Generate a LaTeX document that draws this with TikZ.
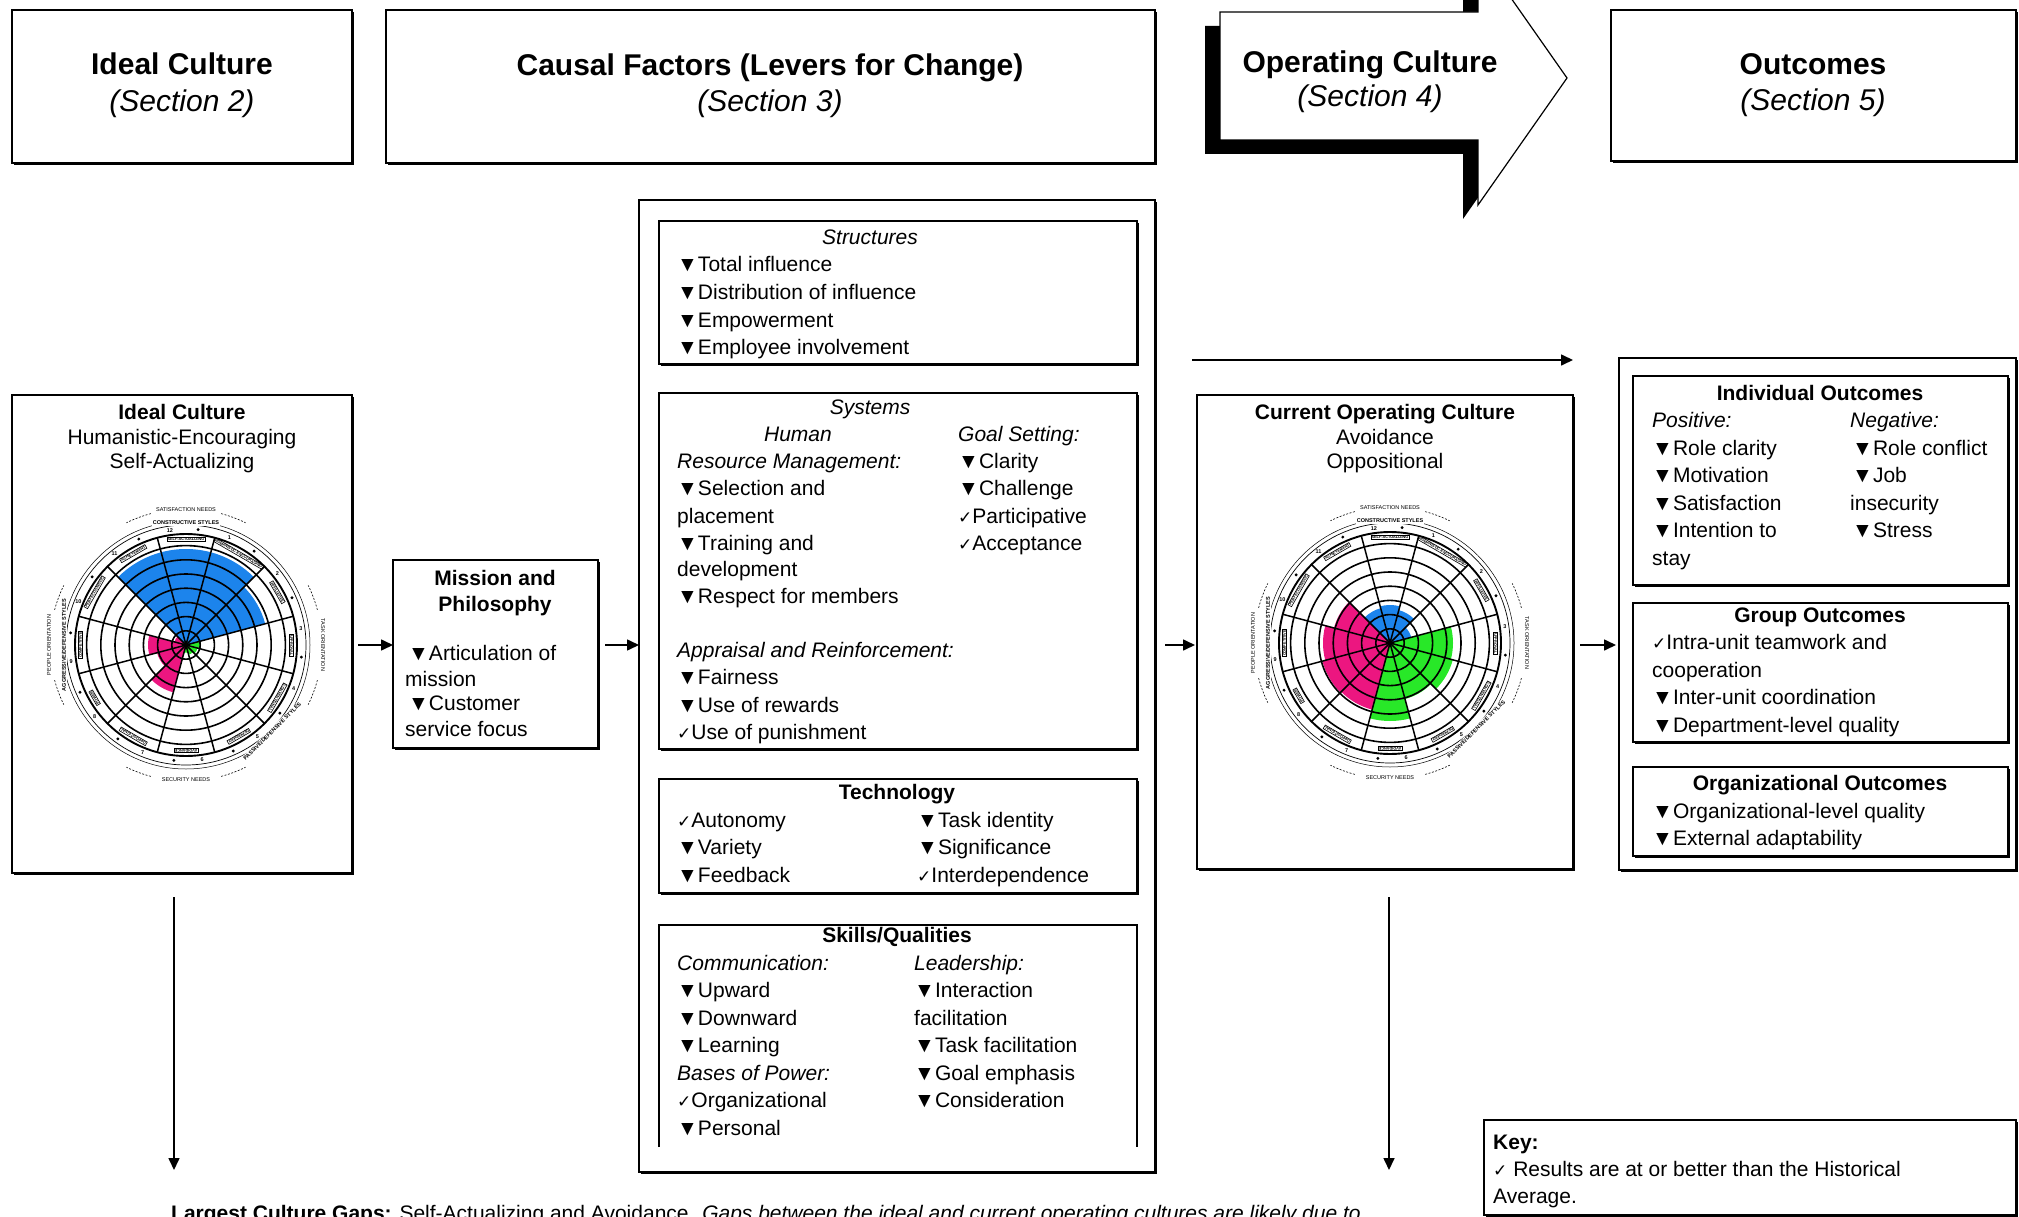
\documentclass[tikz,border=0pt]{standalone}
\usepackage{fontspec}
\setmainfont{Liberation Sans}
\newfontfamily\dejavu{DejaVu Sans}
\usetikzlibrary{arrows.meta,shadows}
\definecolor{cblue}{RGB}{28,132,236}
\definecolor{cpink}{RGB}{236,22,128}
\definecolor{cgreen}{RGB}{40,232,40}
\newcommand\bodyfont{\fontsize{21}{27.5}\selectfont}
\newcommand\ck{{\dejavu\fontsize{17}{17}\selectfont ✓}}
\newcommand\tri{▼}

% circumplex: #1 centre coordinate, #2 twelve radii (styles 1..12), #3 name prefix
\newcommand\circumplex[3]{%
 \begin{scope}[shift={(#1)},x=1pt,y=1pt]
  \foreach \r [count=\h] in {#2}{%
    \pgfmathsetmacro\a{90-30*\h}%
    \ifnum\h<3 \def\col{cblue}\else\ifnum\h<7 \def\col{cgreen}\else\ifnum\h<11 \def\col{cpink}\else\def\col{cblue}\fi\fi\fi
    \fill[\col] (0,0) -- (\a-15:\r) arc[start angle=\a-15,end angle=\a+15,radius=\r] -- cycle;
  }
  \foreach \k in {1,...,7} \draw[line width=1.6pt] (0,0) circle[radius=14.2*\k];
  \draw[line width=1.9pt] (0,0) circle[radius=111];
  \foreach \s in {15,45,...,345} \draw[line width=1.5pt] (0,0) -- (\s:111);
  \foreach \nm [count=\h] in {HUMANISTIC-ENCOURAGING,AFFILIATIVE,APPROVAL,CONVENTIONAL,DEPENDENT,AVOIDANCE,OPPOSITIONAL,POWER,COMPETITIVE,PERFECTIONISTIC,ACHIEVEMENT,SELF-ACTUALIZING}{%
    \pgfmathsetmacro\a{90-30*\h}%
    \node[draw,line width=0.6pt,inner sep=0.7pt,font=\fontsize{3.8}{4}\selectfont\bfseries,rotate=\a-90] (#3s\h) at (\a:105.5) {\nm};
    \node[inner sep=0pt,font=\fontsize{5.5}{5.5}\selectfont\bfseries] (#3n\h) at (\a+8:116) {\h};
    \fill (\a-6:116) circle[radius=1.6];
  }
  \draw[line width=0.7pt] (0,0) circle[radius=120];
  \draw[line width=0.5pt] (0,0) circle[radius=124];
  \node[fill=white,inner sep=1pt,font=\fontsize{5.5}{6}\selectfont\bfseries] (#3g1) at (90:122) {CONSTRUCTIVE STYLES};
  \node[fill=white,inner sep=1pt,font=\fontsize{5.5}{6}\selectfont\bfseries,rotate=45] (#3g2) at (-45:122) {PASSIVE/DEFENSIVE STYLES};
  \node[fill=white,inner sep=1pt,font=\fontsize{5.5}{6}\selectfont\bfseries,rotate=90] (#3g3) at (180:122) {AGGRESSIVE/DEFENSIVE STYLES};
  \node[inner sep=0pt,font=\fontsize{5.5}{6}\selectfont] (#3o1) at (90:135) {SATISFACTION NEEDS};
  \node[inner sep=0pt,font=\fontsize{5.5}{6}\selectfont] (#3o2) at (-90:135) {SECURITY NEEDS};
  \node[inner sep=0pt,font=\fontsize{5.5}{6}\selectfont,rotate=90] (#3o3) at (180:137) {PEOPLE ORIENTATION};
  \node[inner sep=0pt,font=\fontsize{5.5}{6}\selectfont,rotate=-90] (#3o4) at (0:137) {TASK ORIENTATION};
  \foreach \c in {90,-90,180,0}{%
    \draw[line width=0.6pt,dash pattern=on 2pt off 1.5pt] (\c+15:136) arc[start angle=\c+15,end angle=\c+26,radius=136];
    \draw[line width=0.6pt,dash pattern=on 2pt off 1.5pt] (\c-15:136) arc[start angle=\c-15,end angle=\c-26,radius=136];
  }
 \end{scope}}

\begin{document}
\begin{tikzpicture}[x=1pt,y=-1pt,
  box/.style={draw,line width=1.5pt,fill=white,inner sep=0pt,outer sep=0pt,anchor=north west,
    general shadow={fill=black,shadow xshift=1.8pt,shadow yshift=-1.8pt}},
  txt/.style={inner sep=0pt,anchor=base west,font=\bodyfont},
  ctr/.style={txt,anchor=base},
  tbf/.style={font=\bodyfont\bfseries},
  tit/.style={font=\bodyfont\itshape},
  hdb/.style={inner sep=0pt,anchor=base,font=\fontsize{30}{36}\selectfont\bfseries},
  hdi/.style={inner sep=0pt,anchor=base,font=\fontsize{30}{36}\selectfont\itshape},
  arr/.style={line width=1.6pt,-{Triangle[length=12pt,width=11pt]}}]
\useasboundingbox (0,0) rectangle (2019,1217);
\fill[white] (0,0) rectangle (2019,1217);

% ---------- section headers ----------
\node[box,minimum width=340pt,minimum height=153pt] (hideal) at (12,10) {};
\node[box,minimum width=769pt,minimum height=153pt] (hcausal) at (386,10) {};
\node[box,minimum width=405pt,minimum height=151pt] (houtc) at (1611,10) {};
\node[hdb] (hideal1) at (182,75) {Ideal Culture};
\node[hdi] (hideal2) at (182,112) {(Section 2)};
\node[hdb] (hcausal1) at (770,76) {Causal Factors (Levers for Change)};
\node[hdi] (hcausal2) at (770,112) {(Section 3)};
\fill[black,shift={(-15,14)}] (1220,12) -- (1478,12) -- (1478,-49) -- (1567,78) -- (1478,205) -- (1478,140) -- (1220,140) -- cycle;
\draw[line width=1.2pt,fill=white] (1220,12) -- (1478,12) -- (1478,-49) -- (1567,78) -- (1478,205) -- (1478,140) -- (1220,140) -- cycle;
\node[hdb] (hop1) at (1370,73) {Operating Culture};
\node[hdi] (hop2) at (1370,107) {(Section 4)};
\node[hdb] (hout1) at (1813,75) {Outcomes};
\node[hdi] (hout2) at (1813,111) {(Section 5)};

% ---------- ideal culture ----------
\node[box,minimum width=340pt,minimum height=478pt] (ideal) at (12,395) {};
\node[ctr,tbf] (id1) at (182,419) {Ideal Culture};
\node[ctr] (id2) at (182,444) {Humanistic-Encouraging};
\node[ctr] (id3) at (182,468) {Self-Actualizing};
\coordinate (idc) at (186,645);
\circumplex{idc}{96,82,15,12,10,8,49,30,38,12,96,96}{ic}

% ---------- mission ----------
\node[box,minimum width=205pt,minimum height=188pt] (mission) at (393,560) {};
\node[ctr,tbf] (mi1) at (495,585) {Mission and};
\node[ctr,tbf] (mi2) at (495,611) {Philosophy};
\node[txt] (mi3) at (408,660) {\tri Articulation of};
\node[txt] (mi4) at (405,686) {mission};
\node[txt] (mi5) at (408,710) {\tri Customer};
\node[txt] (mi6) at (405,736) {service focus};

% ---------- causal factors ----------
\node[box,minimum width=516pt,minimum height=972pt] (causal) at (639,200) {};

\node[box,minimum width=478pt,minimum height=143pt] (struct) at (659,221) {};
\node[ctr,tit] (st0) at (870,244) {Structures};
\node[txt] (st1) at (677,272) {\tri Total influence};
\node[txt] (st2) at (677,299.5) {\tri Distribution of influence};
\node[txt] (st3) at (677,327) {\tri Empowerment};
\node[txt] (st4) at (677,354.5) {\tri Employee involvement};

\node[box,minimum width=478pt,minimum height=356pt] (systems) at (659,393) {};
\node[ctr,tit] (sy0) at (870,414) {Systems};
\node[ctr,tit] (sy1) at (798,441) {Human};
\node[txt,tit] (sy2) at (677,468) {Resource Management:};
\node[txt] (sy3) at (677,495.5) {\tri Selection and};
\node[txt] (sy4) at (677,523) {placement};
\node[txt] (sy5) at (677,550.5) {\tri Training and};
\node[txt] (sy6) at (677,576) {development};
\node[txt] (sy7) at (677,603) {\tri Respect for members};
\node[txt,tit] (sy8) at (677,657) {Appraisal and Reinforcement:};
\node[txt] (sy9) at (677,684.5) {\tri Fairness};
\node[txt] (sy10) at (677,712) {\tri Use of rewards};
\node[txt] (sy11) at (677,739.5) {\ck Use of punishment};
\node[txt,tit] (gs0) at (958,441) {Goal Setting:};
\node[txt] (gs1) at (958,468) {\tri Clarity};
\node[txt] (gs2) at (958,495.5) {\tri Challenge};
\node[txt] (gs3) at (958,523) {\ck Participative};
\node[txt] (gs4) at (958,550.5) {\ck Acceptance};

\node[box,minimum width=478pt,minimum height=114pt] (tech) at (659,779) {};
\node[ctr,tbf] (te0) at (897,799) {Technology};
\node[txt] (te1) at (677,827) {\ck Autonomy};
\node[txt] (te2) at (677,854.5) {\tri Variety};
\node[txt] (te3) at (677,882) {\tri Feedback};
\node[txt] (te4) at (917,827) {\tri Task identity};
\node[txt] (te5) at (917,854.5) {\tri Significance};
\node[txt] (te6) at (917,882) {\ck Interdependence};

\draw[line width=1.5pt] (659,1147) -- (659,925) -- (1137,925) -- (1137,1147);
\node[ctr,tbf] (sk0) at (897,942) {Skills/Qualities};
\node[txt,tit] (sk1) at (677,970) {Communication:};
\node[txt] (sk2) at (677,997.5) {\tri Upward};
\node[txt] (sk3) at (677,1025) {\tri Downward};
\node[txt] (sk4) at (677,1052.5) {\tri Learning};
\node[txt,tit] (sk5) at (677,1080) {Bases of Power:};
\node[txt] (sk6) at (677,1107.5) {\ck Organizational};
\node[txt] (sk7) at (677,1135) {\tri Personal};
\node[txt,tit] (le0) at (914,970) {Leadership:};
\node[txt] (le1) at (914,997.5) {\tri Interaction};
\node[txt] (le2) at (914,1025) {facilitation};
\node[txt] (le3) at (914,1052.5) {\tri Task facilitation};
\node[txt] (le4) at (914,1080) {\tri Goal emphasis};
\node[txt] (le5) at (914,1107.5) {\tri Consideration};

% ---------- current operating culture ----------
\node[box,minimum width=376pt,minimum height=474pt] (current) at (1197,395) {};
\node[ctr,tbf] (cu1) at (1385,419) {Current Operating Culture};
\node[ctr] (cu2) at (1385,444) {Avoidance};
\node[ctr] (cu3) at (1385,468) {Oppositional};
\coordinate (cuc) at (1390,643);
\circumplex{cuc}{34,22,63,65,58,78,69,70,67,58,36,38}{cc}

% ---------- outcomes ----------
\node[box,minimum width=397pt,minimum height=512pt] (outc) at (1619,358) {};
\node[box,minimum width=375pt,minimum height=209pt] (indiv) at (1633,376) {};
\node[ctr,tbf] (in0) at (1820,400) {Individual Outcomes};
\node[txt,tit] (in1) at (1652,427) {Positive:};
\node[txt] (in2) at (1652,455) {\tri Role clarity};
\node[txt] (in3) at (1652,482.5) {\tri Motivation};
\node[txt] (in4) at (1652,510) {\tri Satisfaction};
\node[txt] (in5) at (1652,537.5) {\tri Intention to};
\node[txt] (in6) at (1652,565) {stay};
\node[txt,tit] (ng0) at (1850,427) {Negative:};
\node[txt] (ng1) at (1852,455) {\tri Role conflict};
\node[txt] (ng2) at (1852,482.5) {\tri Job};
\node[txt] (ng3) at (1850,510) {insecurity};
\node[txt] (ng4) at (1852,537.5) {\tri Stress};

\node[box,minimum width=375pt,minimum height=139pt] (group) at (1633,603) {};
\node[ctr,tbf] (gr0) at (1820,622) {Group Outcomes};
\node[txt] (gr1) at (1652,649.5) {\ck Intra-unit teamwork and};
\node[txt] (gr2) at (1652,677) {cooperation};
\node[txt] (gr3) at (1652,704.5) {\tri Inter-unit coordination};
\node[txt] (gr4) at (1652,732) {\tri Department-level quality};

\node[box,minimum width=375pt,minimum height=89pt] (org) at (1633,767) {};
\node[ctr,tbf] (or0) at (1820,790) {Organizational Outcomes};
\node[txt] (or1) at (1652,818) {\tri Organizational-level quality};
\node[txt] (or2) at (1652,845.5) {\tri External adaptability};

% ---------- key and summary ----------
\node[box,minimum width=532pt,minimum height=95pt] (key) at (1484,1120) {};
\node[txt,tbf] (ke0) at (1493,1149) {Key:};
\node[txt] (ke1) at (1493,1176) {\ck\ Results are at or better than the Historical};
\node[txt] (ke2) at (1493,1203) {Average.};
\node[txt] (gaps) at (171,1220) {\textbf{Largest Culture Gaps:} Self-Actualizing and Avoidance. \textit{Gaps between the ideal and current operating cultures are likely due to}};

% ---------- connectors ----------
\coordinate (row) at (0,645);
\draw[arr,shorten <=6pt] (ideal.east |- row) -- (mission.west |- row);
\draw[arr,shorten <=7pt] (mission.east |- row) -- (causal.west |- row);
\draw[arr,shorten <=10pt,shorten >=2pt] (causal.east |- row) -- (current.west |- row);
\draw[arr,shorten <=7pt,shorten >=3pt] (current.east |- row) -- (outc.west |- row);
\coordinate (lng) at (1192,360);
\draw[arr] (lng) -- (current.east |- lng);
\coordinate (d1a) at (174,897);
\coordinate (d1b) at (174,1170);
\draw[arr] (d1a) -- (d1b);
\coordinate (d2a) at (1389,897);
\coordinate (d2b) at (1389,1170);
\draw[arr] (d2a) -- (d2b);
\end{tikzpicture}
\end{document}
